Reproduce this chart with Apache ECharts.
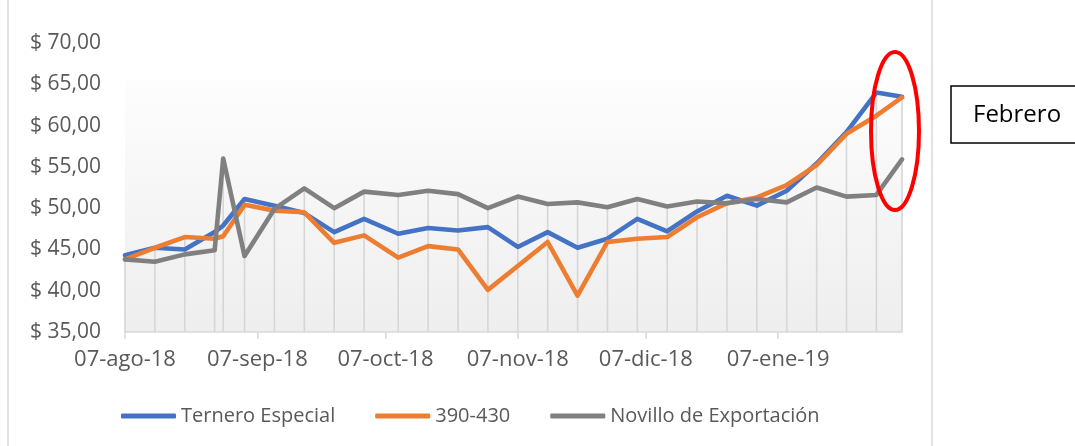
<!DOCTYPE html>
<html>
<head>
<meta charset="utf-8">
<title>Precios</title>
<script src="https://cdn.jsdelivr.net/npm/echarts@6/dist/echarts.min.js"></script>
<style>
	html, body { margin: 0; padding: 0; background: #fff; }
	#precios { width: 1075px; height: 446px; }
</style>
</head>
<body>
<div id="precios"></div>
<script>
/*fechas de cada semana*/
var fechas = ['2018-08-07', '2018-08-14', '2018-08-21', '2018-08-28', '2018-08-30', '2018-09-04',
	'2018-09-11', '2018-09-18', '2018-09-25', '2018-10-02', '2018-10-10', '2018-10-17',
	'2018-10-24', '2018-10-31', '2018-11-07', '2018-11-14', '2018-11-21', '2018-11-28',
	'2018-12-05', '2018-12-12', '2018-12-19', '2018-12-26', '2019-01-02', '2019-01-09',
	'2019-01-16', '2019-01-23', '2019-01-30', '2019-02-05'];
var ternero = [44.3, 45.2, 45.0, 47.1, 47.9, 51.1, 50.3, 49.4, 47.1, 48.7, 46.9, 47.6,
	47.3, 47.7, 45.3, 47.1, 45.2, 46.3, 48.7, 47.2, 49.6, 51.5, 50.3, 52.1, 55.4, 59.2, 64.0, 63.5];
var r390 = [43.8, 45.2, 46.5, 46.3, 46.6, 50.4, 49.7, 49.5, 45.8, 46.7, 44.0, 45.4,
	45.0, 40.1, 43.0, 45.9, 39.4, 45.9, 46.3, 46.5, 48.9, 50.6, 51.3, 52.8, 55.2, 59.0, 61.2, 63.4];
var novillo = [43.8, 43.5, 44.4, 44.9, 56.0, 44.2, 49.9, 52.4, 50.0, 52.0, 51.6, 52.1,
	51.7, 50.0, 51.4, 50.5, 50.7, 50.1, 51.1, 50.2, 50.8, 50.6, 51.1, 50.7, 52.5, 51.4, 51.6, 55.9];
var series = ['Ternero Especial', '390-430', 'Novillo de Exportación'];
/*etiquetas del eje x: el 7 de cada mes*/
var etiquetas = ['2018-08-07', '2018-09-07', '2018-10-07', '2018-11-07', '2018-12-07', '2019-01-07'];
var meses = ['ene', 'feb', 'mar', 'abr', 'may', 'jun', 'jul', 'ago', 'sep', 'oct', 'nov', 'dic'];
var yMin = 35, yMax = 70, yPaso = 5;

function fecha(s){
	var p = s.split('-');
	return new Date(+p[0], +p[1] - 1, +p[2]).getTime();
}
function pares(valores){
	return fechas.map(function(f, i){ return [fecha(f), valores[i]]; });
}

initPrecios();

function initPrecios(){
	var chart = echarts.init(document.getElementById('precios'));
	var fuente = '"Open Sans", sans-serif';
	var ticks = etiquetas.map(fecha);
	var colores = [ '#4472C4', '#ED7D31', '#808080' ];

	// lineas de caida: del valor mas alto hasta el eje
	var caidas = fechas.map(function(f, i){
		return [fecha(f), Math.max(ternero[i], r390[i], novillo[i])];
	});

	function serieLinea(i, valores){
		return {
			name : series[i],
			type : 'line',
			z : 2 + i,
			showSymbol : false,
			symbol : 'none',
			data : pares(valores),
			itemStyle : { color : colores[i] },
			lineStyle : { color : colores[i], width : 4.6, cap : 'round', join : 'round' }
		};
	}

	var option = {
		animation : false,
		grid : {
			left : 125,
			right : 173,
			top : 43,
			bottom : 114,
			show : true,
			borderWidth : 0,
			backgroundColor : {
				type : 'linear', x : 0, y : 0, x2 : 0, y2 : 1,
				colorStops : [
					{ offset : 0, color : '#ffffff' },
					{ offset : 0.128, color : '#ffffff' },
					{ offset : 0.13, color : '#fdfdfd' },
					{ offset : 1, color : '#eeeeee' }
				]
			}
		},
		legend : {
			data : series,
			left : 116,
			top : 401,
			icon : 'roundRect',
			itemWidth : 55,
			itemHeight : 5,
			itemGap : 40,
			textStyle : {
				fontFamily : fuente,
				fontSize : 20,
				color : '#595959'
			}
		},
		xAxis : {
			type : 'value',
			min : fecha('2018-08-07'),
			max : fecha('2019-02-05'),
			axisLine : { lineStyle : { color : '#d9d9d9', width : 1.5 } },
			axisTick : {
				customValues : ticks,
				length : 7,
				lineStyle : { color : '#d9d9d9', width : 1.5 }
			},
			axisLabel : {
				customValues : ticks,
				margin : 17,
				fontFamily : fuente,
				fontSize : 22,
				color : '#595959',
				formatter : function(v){
					var d = new Date(v);
					var dia = ('0' + d.getDate()).slice(-2);
					var anio = ('' + d.getFullYear()).slice(-2);
					return dia + '-' + meses[d.getMonth()] + '-' + anio;
				}
			},
			splitLine : { show : false }
		},
		yAxis : {
			type : 'value',
			min : yMin,
			max : yMax,
			interval : yPaso,
			axisLine : { show : false },
			axisTick : { show : false },
			splitLine : { show : false },
			axisLabel : {
				margin : 24,
				fontFamily : fuente,
				fontSize : 21,
				color : '#595959',
				formatter : function(v){
					return '$ ' + v.toFixed(2).replace('.', ',');
				}
			}
		},
		series : [ {
			name : 'caidas',
			type : 'custom',
			z : 1,
			silent : true,
			data : caidas,
			renderItem : function(params, api){
				var arriba = api.coord([api.value(0), api.value(1)]);
				var abajo = api.coord([api.value(0), yMin]);
				return {
					type : 'line',
					shape : { x1 : arriba[0], y1 : arriba[1], x2 : abajo[0], y2 : abajo[1] },
					style : { stroke : '#d6d6d6', lineWidth : 1.6 }
				};
			}
		},
			serieLinea(0, ternero),
			serieLinea(1, r390),
			serieLinea(2, novillo)
		],
		graphic : [ {
			// borde del grafico
			type : 'rect',
			z : 0,
			shape : { x : 8, y : -5, width : 924, height : 460 },
			style : { fill : 'none', stroke : '#d9d9d9', lineWidth : 1.5 }
		}, {
			// ovalo rojo sobre febrero
			type : 'ellipse',
			z : 100,
			shape : { cx : 895, cy : 131, rx : 24, ry : 79 },
			style : { fill : 'none', stroke : '#ff0000', lineWidth : 4 }
		}, {
			type : 'rect',
			z : 100,
			shape : { x : 951, y : 86, width : 140, height : 57 },
			style : { fill : '#ffffff', stroke : '#000000', lineWidth : 1.5 }
		}, {
			type : 'text',
			z : 101,
			x : 973,
			y : 115,
			style : {
				text : 'Febrero',
				fontFamily : fuente,
				fontSize : 24,
				fill : '#000000',
				verticalAlign : 'middle'
			}
		} ]
	};
	chart.setOption(option);
}
</script>
</body>
</html>
